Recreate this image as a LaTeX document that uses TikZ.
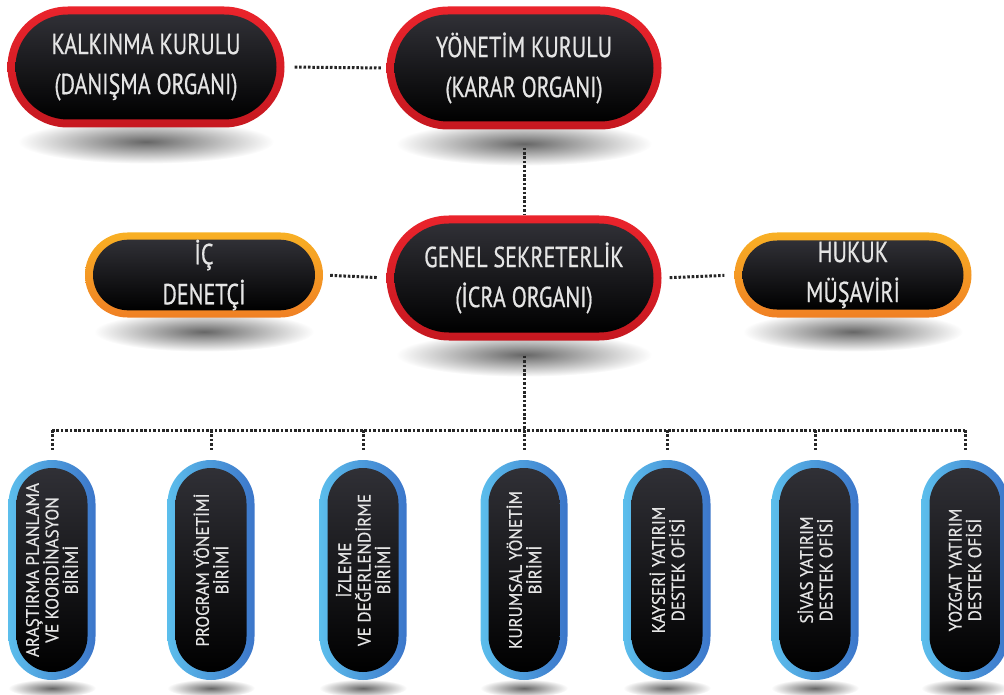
\documentclass[tikz,border=0pt]{standalone}
\usepackage{fontspec}
\setmainfont[FakeStretch=0.76, FakeBold=0.6]{PT Sans}
\newfontfamily\unitfont[FakeStretch=0.95, FakeBold=0.5]{PT Sans}
\usetikzlibrary{shapes.misc,backgrounds,calc}

\definecolor{ringred}{RGB}{234,36,44}
\definecolor{ringreddark}{RGB}{198,24,32}
\definecolor{ringorange}{RGB}{248,176,36}
\definecolor{ringorangedark}{RGB}{240,128,36}
\definecolor{ringblue}{RGB}{92,190,236}
\definecolor{ringbluedark}{RGB}{60,118,202}
\definecolor{corelight}{RGB}{48,48,54}

\tikzset{
  ring/.style={rounded rectangle, inner sep=0pt, draw=none},
  redring/.style={ring, top color=ringred, bottom color=ringreddark},
  orangering/.style={ring, top color=ringorange, bottom color=ringorangedark},
  bluering/.style={ring, rotate=90, left color=ringblue, right color=ringbluedark,
    minimum width=220pt, minimum height=87pt},
  core/.style={rounded rectangle, inner sep=0pt, top color=corelight, bottom color=black,
    text=white!90!black, align=center},
  bigtext/.style={font=\fontsize{29}{40}\selectfont},
  smalltext/.style={font=\unitfont\fontsize{18}{19.5}\selectfont, rotate=90,
    minimum width=204pt, minimum height=71pt},
  link/.style={draw=black!85, line width=3pt, dash pattern=on 2.6pt off 1.8pt},
  floor/.style={inner color=black!60, outer color=white},
}

\begin{document}
\begin{tikzpicture}[x=1pt, y=-1pt]
\useasboundingbox (0,0) rectangle (1004,695);

% boards
\node[redring, minimum width=277pt, minimum height=121pt] (kalkinma) at (146,67) {};
\node[core, bigtext, minimum width=261pt, minimum height=105pt] at (kalkinma.center)
  {KALKINMA KURULU\\(DANIŞMA ORGANI)};
\node[redring, minimum width=275pt, minimum height=123pt] (yonetim) at (524,68) {};
\node[core, bigtext, minimum width=259pt, minimum height=107pt] at (yonetim.center)
  {YÖNETİM KURULU\\(KARAR ORGANI)};

% secretariat and advisers
\node[redring, minimum width=275pt, minimum height=125pt] (genel) at (524,278) {};
\node[core, bigtext, minimum width=259pt, minimum height=109pt] at (genel.center)
  {GENEL SEKRETERLİK\\(İCRA ORGANI)};
\node[orangering, minimum width=238pt, minimum height=85pt] (denetci) at (204,275) {};
\node[core, bigtext, minimum width=222pt, minimum height=69pt] at (denetci.center)
  {İÇ\\DENETÇİ};
\node[orangering, minimum width=237pt, minimum height=85pt] (hukuk) at (853,275) {};
\node[core, bigtext, minimum width=221pt, minimum height=69pt] at (hukuk.center)
  {HUKUK\\MÜŞAVİRİ};

\draw[link, shorten <=10pt, shorten >=5pt] (kalkinma.east) -- (yonetim.west);
\draw[link, shorten <=18pt] (yonetim.south) -- (genel.north);
\draw[link, shorten <=7pt, shorten >=8pt] (denetci.east) -- (genel.west);
\draw[link, shorten <=8pt, shorten >=10pt] (genel.east) -- (hukuk.west);

\coordinate (bus) at (524,430);
\draw[link, shorten <=15pt] (genel.south) -- (bus);

% units
\foreach \x/\unit/\txt in {
  52/arastirma/{ARAŞTIRMA PLANLAMA\\VE KOORDİNASYON\\BİRİMİ},
  211/program/{PROGRAM YÖNETİMİ\\BİRİMİ},
  363/izleme/{İZLEME\\VE DEĞERLENDİRME\\BİRİMİ},
  524/kurumsal/{KURUMSAL YÖNETİM\\BİRİMİ},
  667/kayseri/{KAYSERİ YATIRIM\\DESTEK OFİSİ},
  815/sivas/{SİVAS YATIRIM\\DESTEK OFİSİ},
  965/yozgat/{YOZGAT YATIRIM\\DESTEK OFİSİ}} {
  \node[bluering] (\unit) at (\x,570) {};
  \node[core, smalltext] at (\unit.center) {\txt};
  \draw[link, shorten >=8pt] (\unit.east |- bus) -- (\unit.east);
}
\draw[link] (arastirma.east |- bus) -- (yozgat.east |- bus);

% shadows
\begin{scope}[on background layer]
  \foreach \brd in {kalkinma,yonetim,genel} {
    \shade[floor] ($(\brd.south)+(0,14)$) ellipse [x radius=128, y radius=22];
  }
  \foreach \brd in {denetci,hukuk} {
    \shade[floor] ($(\brd.south)+(0,14)$) ellipse [x radius=110, y radius=20];
  }
  \foreach \brd in {arastirma,program,izleme,kurumsal,kayseri,sivas,yozgat} {
    \shade[floor] ($(\brd.west)+(0,8)$) ellipse [x radius=44, y radius=9];
  }
\end{scope}

\end{tikzpicture}
\end{document}
